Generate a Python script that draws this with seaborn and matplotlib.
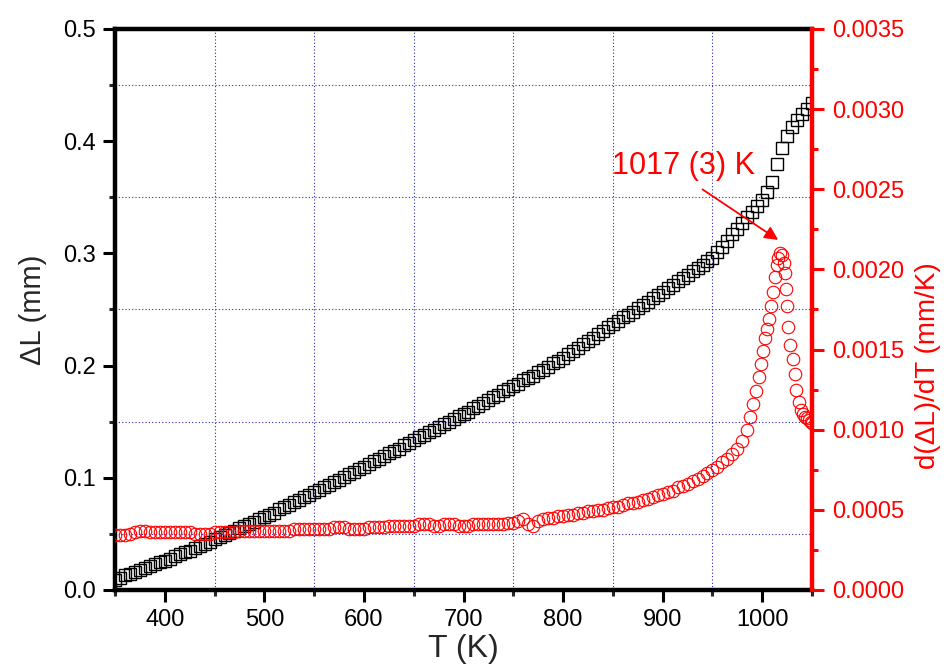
import pandas as pd
import matplotlib
matplotlib.use("Agg")
import matplotlib.pyplot as plt
from matplotlib.ticker import MultipleLocator, FormatStrFormatter
import seaborn as sns

# Dilatation curve: temperature (K) and length change dL (mm)
temp_dl = [
    350, 355, 360, 365, 370, 375, 380, 385, 390, 395,
    400, 405, 410, 415, 420, 425, 430, 435, 440, 445,
    450, 455, 460, 465, 470, 475, 480, 485, 490, 495,
    500, 505, 510, 515, 520, 525, 530, 535, 540, 545,
    550, 555, 560, 565, 570, 575, 580, 585, 590, 595,
    600, 605, 610, 615, 620, 625, 630, 635, 640, 645,
    650, 655, 660, 665, 670, 675, 680, 685, 690, 695,
    700, 705, 710, 715, 720, 725, 730, 735, 740, 745,
    750, 755, 760, 765, 770, 775, 780, 785, 790, 795,
    800, 805, 810, 815, 820, 825, 830, 835, 840, 845,
    850, 855, 860, 865, 870, 875, 880, 885, 890, 895,
    900, 905, 910, 915, 920, 925, 930, 935, 940, 945,
    950, 955, 960, 965, 970, 975, 980, 985, 990, 995,
    1000, 1005, 1010, 1015, 1020, 1025, 1030, 1035, 1040, 1045, 1050,
]
delta_l = [
    0.009, 0.011, 0.013, 0.014, 0.016, 0.018, 0.020, 0.021, 0.023, 0.025,
    0.026, 0.028, 0.030, 0.032, 0.034, 0.035, 0.037, 0.039, 0.041, 0.043,
    0.045, 0.047, 0.049, 0.051, 0.053, 0.055, 0.057, 0.059, 0.061, 0.063,
    0.065, 0.067, 0.069, 0.072, 0.074, 0.076, 0.078, 0.080, 0.083, 0.085,
    0.087, 0.089, 0.092, 0.094, 0.096, 0.098, 0.101, 0.103, 0.105, 0.108,
    0.110, 0.112, 0.115, 0.117, 0.119, 0.122, 0.124, 0.126, 0.129, 0.131,
    0.134, 0.136, 0.138, 0.141, 0.143, 0.145, 0.148, 0.150, 0.152, 0.155,
    0.157, 0.159, 0.162, 0.164, 0.167, 0.169, 0.172, 0.174, 0.177, 0.179,
    0.182, 0.184, 0.187, 0.189, 0.191, 0.194, 0.196, 0.199, 0.202, 0.204,
    0.207, 0.210, 0.213, 0.216, 0.219, 0.222, 0.225, 0.228, 0.231, 0.234,
    0.237, 0.240, 0.243, 0.245, 0.248, 0.251, 0.254, 0.257, 0.260, 0.263,
    0.266, 0.269, 0.272, 0.275, 0.278, 0.281, 0.284, 0.287, 0.290, 0.293,
    0.296, 0.301, 0.306, 0.311, 0.317, 0.322, 0.327, 0.332, 0.337, 0.342,
    0.348, 0.355, 0.364, 0.380, 0.394, 0.405, 0.413, 0.419, 0.424, 0.429, 0.434,
]

# Derivative curve: temperature (K) and d(dL)/dT (mm/K)
temp_der = [
    350, 355, 360, 365, 370, 375, 380, 385, 390, 395,
    400, 405, 410, 415, 420, 425, 430, 435, 440, 445,
    450, 455, 460, 465, 470, 475, 480, 485, 490, 495,
    500, 505, 510, 515, 520, 525, 530, 535, 540, 545,
    550, 555, 560, 565, 570, 575, 580, 585, 590, 595,
    600, 605, 610, 615, 620, 625, 630, 635, 640, 645,
    650, 655, 660, 665, 670, 675, 680, 685, 690, 695,
    700, 705, 710, 715, 720, 725, 730, 735, 740, 745,
    750, 755, 760, 765, 770, 775, 780, 785, 790, 795,
    800, 805, 810, 815, 820, 825, 830, 835, 840, 845,
    850, 855, 860, 865, 870, 875, 880, 885, 890, 895,
    900, 905, 910, 915, 920, 925, 930, 935, 940, 945,
    950, 955, 960, 965, 970, 975, 980, 985,
    988, 991, 994, 997, 999, 1001, 1003, 1005, 1007, 1009,
    1011, 1013, 1015, 1016, 1018, 1020, 1022, 1023, 1024, 1025,
    1026, 1028, 1031, 1033, 1034, 1037, 1039, 1041, 1043, 1045,
    1047, 1049, 1050,
]
deriv = [
    0.00034, 0.00034, 0.00034, 0.00035, 0.00036, 0.00037, 0.00037, 0.00036, 0.00036, 0.00036,
    0.00036, 0.00036, 0.00036, 0.00036, 0.00036, 0.00036, 0.00035, 0.00035, 0.00035, 0.00035,
    0.00036, 0.00036, 0.00036, 0.00036, 0.00036, 0.00037, 0.00037, 0.00037, 0.00037, 0.00037,
    0.00037, 0.00037, 0.00037, 0.00037, 0.00037, 0.00037, 0.00038, 0.00038, 0.00038, 0.00038,
    0.00038, 0.00038, 0.00038, 0.00038, 0.00039, 0.00039, 0.00039, 0.00038, 0.00038, 0.00038,
    0.00038, 0.00039, 0.00039, 0.00039, 0.00039, 0.00040, 0.00040, 0.00040, 0.00040, 0.00040,
    0.00040, 0.00041, 0.00041, 0.00041, 0.00040, 0.00040, 0.00041, 0.00041, 0.00041, 0.00040,
    0.00040, 0.00040, 0.00041, 0.00041, 0.00041, 0.00041, 0.00041, 0.00041, 0.00041, 0.00042,
    0.00042, 0.00043, 0.00044, 0.00041, 0.00040, 0.00043, 0.00044, 0.00045, 0.00045, 0.00046,
    0.00046, 0.00047, 0.00047, 0.00048, 0.00048, 0.00049, 0.00049, 0.00050, 0.00050, 0.00051,
    0.00052, 0.00052, 0.00053, 0.00054, 0.00054, 0.00055, 0.00056, 0.00057, 0.00058, 0.00059,
    0.00060, 0.00061, 0.00062, 0.00064, 0.00065, 0.00066, 0.00068, 0.00069, 0.00071, 0.00073,
    0.00075, 0.00077, 0.00080, 0.00082, 0.00085, 0.00088, 0.00093, 0.00100,
    0.00108, 0.00116, 0.00124, 0.00133, 0.00141, 0.00149, 0.00157, 0.00163, 0.00169, 0.00177,
    0.00186, 0.00195, 0.00203, 0.00207, 0.00210, 0.00209, 0.00204, 0.00198, 0.00188, 0.00177,
    0.00164, 0.00153, 0.00144, 0.00135, 0.00125, 0.00117, 0.00112, 0.00110, 0.00108, 0.00107,
    0.00106, 0.00105, 0.00104,
]

peak_label = "1017 (3) K"

df_dl = pd.DataFrame({"T": temp_dl, "dL": delta_l})
df_der = pd.DataFrame({"T": temp_der, "der": deriv})

sns.set_theme(style="white")
plt.rcParams["font.family"] = ["Liberation Sans", "DejaVu Sans"]

fig, ax = plt.subplots(figsize=(9.47, 6.69), dpi=100)
fig.subplots_adjust(left=0.1214, right=0.8575, bottom=0.1181, top=0.9567)
ax2 = ax.twinx()

# black open squares: dL
sns.lineplot(data=df_dl, x="T", y="dL", ax=ax, marker="s", linestyle="",
             markersize=8, markerfacecolor="none", markeredgecolor="black",
             markeredgewidth=1.0, estimator=None, sort=False)

# red open circles: derivative
sns.lineplot(data=df_der, x="T", y="der", ax=ax2, marker="o", linestyle="",
             markersize=9, markerfacecolor="none", markeredgecolor="red",
             markeredgewidth=0.8, estimator=None, sort=False)

# axes limits and ticks
ax.set_xlim(350, 1050)
ax.set_ylim(0, 0.5)
ax2.set_ylim(0, 0.0035)
ax.xaxis.set_major_locator(MultipleLocator(100))
ax.xaxis.set_minor_locator(MultipleLocator(50))
ax.yaxis.set_major_locator(MultipleLocator(0.1))
ax.yaxis.set_minor_locator(MultipleLocator(0.05))
ax.yaxis.set_major_formatter(FormatStrFormatter("%.1f"))
ax2.yaxis.set_major_locator(MultipleLocator(0.0005))
ax2.yaxis.set_minor_locator(MultipleLocator(0.00025))
ax2.yaxis.set_major_formatter(FormatStrFormatter("%.4f"))

# minor grid only, dotted blue
ax.grid(False, which="major")
ax.grid(True, which="minor", color="#2a2ab4", linestyle=(0, (1, 2)), linewidth=0.8)
ax.set_axisbelow(True)
ax2.grid(False)

# spines
for side in ["left", "bottom", "top"]:
    ax.spines[side].set_linewidth(3.2)
    ax.spines[side].set_color("black")
ax.spines["right"].set_visible(False)
for side in ["left", "bottom", "top"]:
    ax2.spines[side].set_visible(False)
ax2.spines["right"].set_linewidth(3.2)
ax2.spines["right"].set_color("red")

ax.tick_params(axis="both", which="major", direction="out", length=8.5, width=2.2,
               labelsize=17, pad=5, colors="black", left=True, bottom=True)
ax.tick_params(axis="both", which="minor", direction="out", length=4.5, width=2.2,
               left=True, bottom=True)
ax2.tick_params(axis="y", which="major", direction="out", length=8.5, width=2.2,
                labelsize=17, pad=6, colors="red", right=True)
ax2.tick_params(axis="y", which="minor", direction="out", length=4.5, width=2.2,
                colors="red", right=True)

ax.set_xlabel("T (K)", fontsize=23, labelpad=2)
ax.set_ylabel("ΔL (mm)", fontsize=21, labelpad=12)
ax2.set_ylabel("d(ΔL)/dT (mm/K)", fontsize=20, color="red")
ax2.yaxis.set_label_coords(1.148, 0.40)

# peak annotation
ax.text(849, 0.378, peak_label, color="red", fontsize=22, ha="left", va="center")
ax.annotate("", xy=(1016, 0.312), xytext=(940, 0.357),
            arrowprops=dict(arrowstyle="-|>", color="red", lw=1.3,
                            mutation_scale=20, shrinkA=0, shrinkB=0))

fig.savefig("out.png", dpi=100)
